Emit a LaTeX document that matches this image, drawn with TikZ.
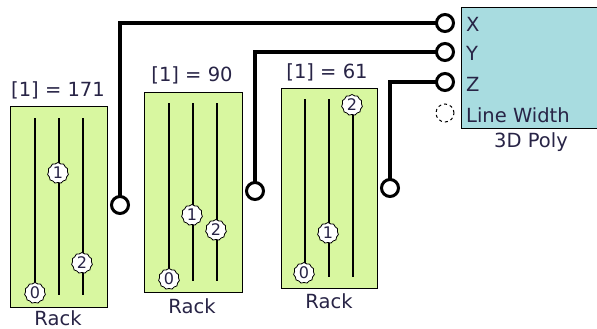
\documentclass[tikz,border=0pt]{standalone}
\usepackage{fontspec}
\setmainfont{DejaVu Sans}
\usetikzlibrary{shapes.symbols}
\definecolor{rackgreen}{RGB}{216,247,160}
\definecolor{polycyan}{RGB}{168,220,224}
\definecolor{txt}{RGB}{40,36,70}
\begin{document}
\begin{tikzpicture}[x=1pt,y=-1pt,
  rackbox/.style={draw=black, line width=1.4pt, fill=rackgreen, anchor=north west, inner sep=0pt},
  track/.style={line width=1.4pt},
  knob/.style={cloud, cloud puffs=11, cloud puff arc=110, aspect=1, draw=black, line width=0.8pt, fill=white, inner sep=0pt, minimum width=21pt, minimum height=21pt, font=\fontsize{16}{16}\selectfont, text=txt},
  port/.style={circle, draw=black, line width=3pt, fill=white, minimum size=17pt, inner sep=0pt},
  freeport/.style={circle, draw=black, dashed, line width=1pt, fill=white, minimum size=18pt, inner sep=0pt},
  wire/.style={line width=3.4pt},
  lbl/.style={font=\fontsize{19.5}{21}\selectfont, text=txt, inner sep=0pt}]
\useasboundingbox[fill=white] (0,0) rectangle (597,329);

% Rack 1
\node[rackbox, minimum width=97pt, minimum height=201pt] (r1) at (10,106) {};
\node[lbl] (t1) at (58,90) {[1] = 171};
\node[lbl] (n1) at (58,318) {Rack};
\draw[track] (35,118) -- (35,295);
\draw[track] (59,118) -- (59,295);
\draw[track] (83,118) -- (83,295);
\node[knob] (k10) at (35,293) {0};
\node[knob] (k11) at (58,173) {1};
\node[knob] (k12) at (82,263) {2};

% Rack 2
\node[rackbox, minimum width=98pt, minimum height=200pt] (r2) at (144,92) {};
\node[lbl] (t2) at (192,75) {[1] = 90};
\node[lbl] (n2) at (192,306) {Rack};
\draw[track] (169,103) -- (169,281);
\draw[track] (193,103) -- (193,281);
\draw[track] (217,103) -- (217,281);
\node[knob] (k20) at (169,279) {0};
\node[knob] (k21) at (192,215) {1};
\node[knob] (k22) at (216,230) {2};

% Rack 3
\node[rackbox, minimum width=96pt, minimum height=200pt] (r3) at (281,88) {};
\node[lbl] (t3) at (327,72) {[1] = 61};
\node[lbl] (n3) at (329,301) {Rack};
\draw[track] (305,99) -- (305,277);
\draw[track] (329,99) -- (329,277);
\draw[track] (353,99) -- (353,277);
\node[knob] (k30) at (304,273) {0};
\node[knob] (k31) at (328,233) {1};
\node[knob] (k32) at (352,105) {2};

% 3D Poly
\node[draw=black, line width=1.4pt, fill=polycyan, anchor=north west, inner sep=0pt, minimum width=150pt, minimum height=121pt] (poly) at (461,7) {};
\node[lbl, anchor=west] (lx) at (466,24) {X};
\node[lbl, anchor=west] (ly) at (466,53) {Y};
\node[lbl, anchor=west] (lz) at (466,84) {Z};
\node[lbl, anchor=west] (llw) at (466,115) {Line Width};
\node[lbl] (np) at (531,142) {3D Poly};

% wires
\coordinate (o1) at (120,205);
\coordinate (o2) at (255,191);
\coordinate (o3) at (390,188);
\coordinate (ix) at (445,23);
\coordinate (iy) at (445,52);
\coordinate (iz) at (445,82);
\draw[wire] (o1) |- (ix);
\draw[wire] (o2) |- (iy);
\draw[wire] (o3) |- (iz);

% ports
\node[port] (p1) at (o1) {};
\node[port] (p2) at (o2) {};
\node[port] (p3) at (o3) {};
\node[port] (px) at (ix) {};
\node[port] (py) at (iy) {};
\node[port] (pz) at (iz) {};
\node[freeport] (plw) at (445,113) {};
\end{tikzpicture}
\end{document}
